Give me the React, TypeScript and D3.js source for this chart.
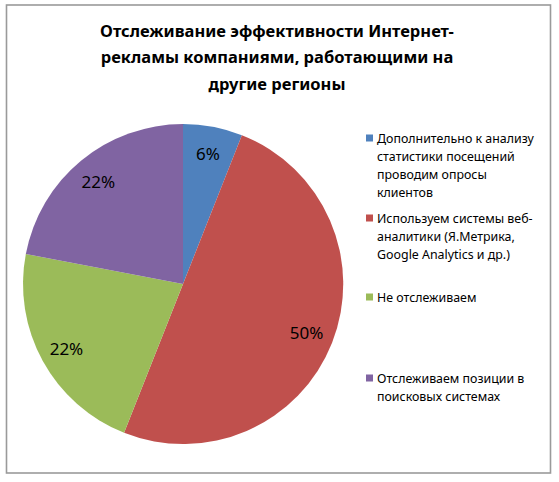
import React from 'react';
import * as d3 from 'd3';

const titleLines = [
  'Отслеживание эффективности Интернет-',
  'рекламы компаниями, работающими на',
  'другие регионы',
];

const categories = [
  'Дополнительно к анализу статистики посещений проводим опросы клиентов',
  'Используем системы веб-аналитики (Я.Метрика, Google Analytics и др.)',
  'Не отслеживаем',
  'Отслеживаем позиции в поисковых системах',
];

// legend entries as they wrap in the picture
const legendLines = [
  ['Дополнительно к анализу', 'статистики посещений', 'проводим опросы', 'клиентов'],
  ['Используем системы веб-', 'аналитики (Я.Метрика,', 'Google Analytics и др.)'],
  ['Не отслеживаем'],
  ['Отслеживаем позиции в', 'поисковых системах'],
];

const values = [6, 50, 22, 22];
const labels = ['6%', '50%', '22%', '22%'];
const colors = ['#4F81BD', '#C0504D', '#9BBB59', '#8064A2'];

const W = 559;
const H = 482;
const cx = 183;
const cy = 284;
const R = 160;
const labelR = 133;
const font = '"Noto Sans", "DejaVu Sans", sans-serif';

const App: React.FC = () => {
  const pie = d3.pie<number>().sort(null).value(d => d);
  const arcs = pie(values);
  const arc = d3.arc<d3.PieArcDatum<number>>().innerRadius(0).outerRadius(R);
  const labelArc = d3.arc<d3.PieArcDatum<number>>().innerRadius(labelR).outerRadius(labelR);

  // centre y of the first line of each legend entry
  const legendY = [138, 218, 297, 378];
  const lineH = 18;

  return (
    <div style={{ position: 'absolute', left: 0, top: 0 }}>
      <svg width={W} height={H} style={{ display: 'block', background: '#fff' }}>
        <rect x={6.5} y={5} width={544} height={468} fill="#fff" stroke="#9a9a9a" strokeWidth={1.6} />

        <g fontFamily={font} fontWeight="bold" fontSize={16.5} fill="#000" textAnchor="middle">
          {titleLines.map((t, i) => (
            <text key={i} x={277} y={30 + i * 26.5} dominantBaseline="central">{t}</text>
          ))}
        </g>

        <g transform={`translate(${cx},${cy})`}>
          {arcs.map((a, i) => (
            <path key={categories[i]} d={arc(a) || ''} fill={colors[i]} />
          ))}
          {arcs.map((a, i) => {
            const [x, y] = labelArc.centroid(a);
            return (
              <text key={i} x={x} y={y} textAnchor="middle" dominantBaseline="central"
                fontFamily={font} fontSize={17} fill="#000">{labels[i]}</text>
            );
          })}
        </g>

        <g fontFamily={font} fontSize={12.4} fill="#000">
          {legendLines.map((lines, i) => (
            <g key={i}>
              <rect x={366} y={legendY[i] - 3.5} width={7} height={7} fill={colors[i]} />
              {lines.map((l, j) => (
                <text key={j} x={377} y={legendY[i] + j * lineH} dominantBaseline="central">{l}</text>
              ))}
            </g>
          ))}
        </g>
      </svg>
    </div>
  );
};

export default App;
